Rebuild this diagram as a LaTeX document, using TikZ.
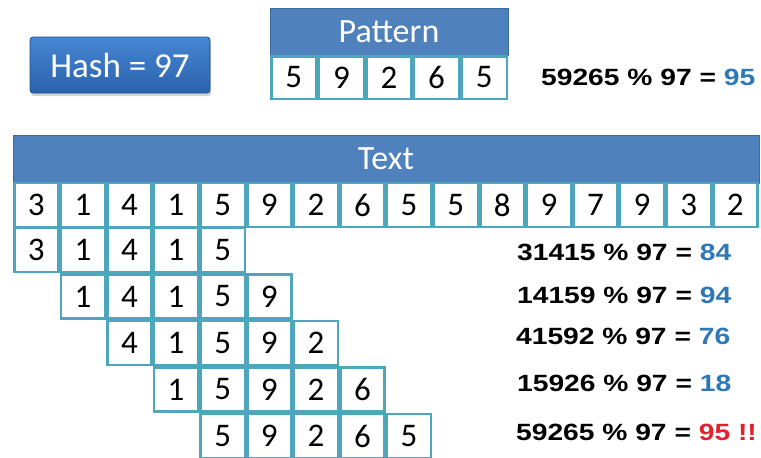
\documentclass[tikz,border=0pt]{standalone}
\usepackage{fontspec}
\setmainfont{Carlito}
\newfontfamily\eqfont[FakeStretch=1.2]{Liberation Sans}
\usetikzlibrary{shadows}

\definecolor{hdrblue}{HTML}{4F81BD}
\definecolor{hdrline}{HTML}{3D6A9E}
\definecolor{cellline}{HTML}{4EA6BC}
\definecolor{hashtop}{HTML}{4686D2}
\definecolor{hashbot}{HTML}{2A62AC}
\definecolor{numblue}{HTML}{2E78B8}
\definecolor{numred}{HTML}{E1222C}

\begin{document}
\begin{tikzpicture}[x=1pt, y=-1pt,
  cell/.style={draw=cellline, line width=2.5pt, fill=white, inner sep=0pt,
    minimum width=44.1pt, minimum height=44pt,
    font=\fontsize{33}{33}\selectfont},
  pcell/.style={cell, minimum width=45.1pt, minimum height=42.5pt},
  hdr/.style={draw=hdrline, line width=1pt, fill=hdrblue, text=white,
    inner sep=0pt, font=\fontsize{34}{34}\selectfont},
  eqn/.style={anchor=west, inner sep=0pt,
    font=\eqfont\bfseries\fontsize{23.5}{23.5}\selectfont}]
  \useasboundingbox (0,0) rectangle (761,458);

  % hash value of the pattern
  \node[rounded corners=3pt, draw=hashbot!80!black, line width=0.8pt,
    top color=hashtop, bottom color=hashbot, text=white,
    minimum width=180pt, minimum height=56pt,
    font=\fontsize{35}{35}\selectfont,
    drop shadow={shadow xshift=1pt, shadow yshift=-3pt, opacity=0.35}]
    (hash) at (120,65) {Hash = 97};

  % pattern
  \node[hdr, minimum width=238pt, minimum height=47pt] (pathdr) at (389,31.5) {Pattern};
  \foreach \d [count=\i] in {5,9,2,6,5}
    \node[pcell] (p\i) at ({270+47.6*\i-23.8},77.5) {\d};
  \node[eqn] (eqp) at (541,77) {59265 \% 97 = \textcolor{numblue}{95}};

  % text
  \node[hdr, minimum width=746pt, minimum height=48pt] (txthdr) at (386,159) {Text};
  \foreach \d [count=\i] in {3,1,4,1,5,9,2,6,5,5,8,9,7,9,3,2}
    \node[cell] (t\i) at ({13+46.6*\i-23.3},205) {\d};

  % sliding windows
  \foreach \k/\digits in {0/{3,1,4,1,5}, 1/{1,4,1,5,9}, 2/{4,1,5,9,2},
                          3/{1,5,9,2,6}, 4/{5,9,2,6,5}}
    \foreach \d [count=\j] in \digits
      \node[cell] (w\k-\j) at ({13+46.6*(\k+\j)-23.3},{250+46.5*\k}) {\d};

  \node[eqn] (eq0) at (517,252) {31415 \% 97 = \textcolor{numblue}{84}};
  \node[eqn] (eq1) at (517,295) {14159 \% 97 = \textcolor{numblue}{94}};
  \node[eqn] (eq2) at (516,336) {41592 \% 97 = \textcolor{numblue}{76}};
  \node[eqn] (eq3) at (517,383) {15926 \% 97 = \textcolor{numblue}{18}};
  \node[eqn] (eq4) at (516,432) {59265 \% 97 = \textcolor{numred}{95 !!}};
\end{tikzpicture}
\end{document}
